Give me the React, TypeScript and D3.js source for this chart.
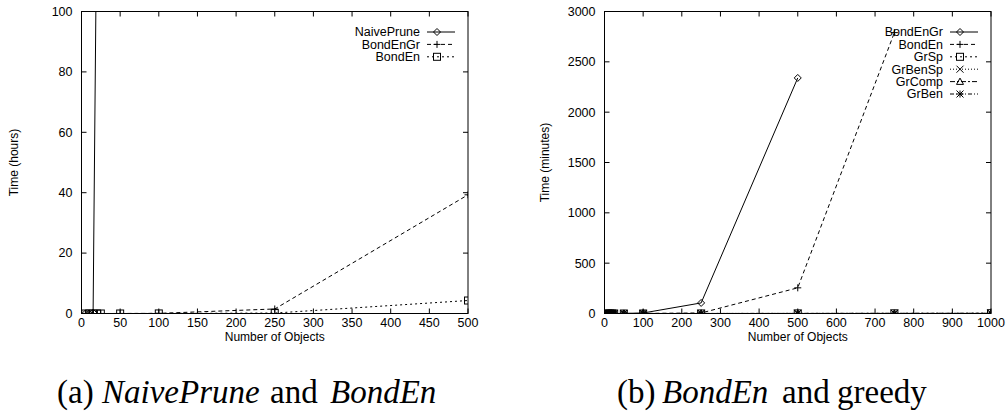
import React from "react";
import * as d3 from "d3";

// ---- Data ----
const leftX = [5, 10, 15, 20, 25, 50, 100, 250, 500];
const leftNaiveX = [5, 10, 15, 20];
const leftNaivePrune = [0, 0, 0.3, 140];
const leftBondEnGr = [0, 0, 0, 0, 0, 0.01, 0.05, 1.5, 39.3];
const leftBondEn = [0, 0, 0, 0, 0, 0, 0.02, 0.15, 4.3];
const leftXTicks = [0, 50, 100, 150, 200, 250, 300, 350, 400, 450, 500];
const leftYTicks = [0, 20, 40, 60, 80, 100];

const rightX = [5, 10, 15, 20, 25, 50, 100, 250, 500, 750, 1000];
const rightBondEnGrX = [5, 10, 15, 20, 25, 50, 100, 250, 500];
const rightBondEnGr = [0, 0, 0, 0, 0, 1, 5, 105, 2340];
const rightBondEnX = [5, 10, 15, 20, 25, 50, 100, 250, 500, 750];
const rightBondEn = [0, 0, 0, 0, 0, 0, 1, 5, 255, 2790];
const rightGrSp = [0, 0, 0, 0, 0, 0, 0, 0.5, 1, 2, 3];
const rightGrBenSp = [0, 0, 0, 0, 0, 0, 0, 0.4, 0.8, 1.5, 2];
const rightGrComp = [0, 0, 0, 0, 0, 0, 0, 0.3, 0.6, 1, 1.5];
const rightGrBen = [0, 0, 0, 0, 0, 0, 0, 0.2, 0.5, 0.8, 1];
const rightXTicks = [0, 100, 200, 300, 400, 500, 600, 700, 800, 900, 1000];
const rightYTicks = [0, 500, 1000, 1500, 2000, 2500, 3000];

type MarkerKind = "diamond" | "plus" | "square" | "cross" | "triangle" | "star";

interface Series {
  name: string;
  xs: number[];
  ys: number[];
  dash: string;
  marker: MarkerKind;
}

const FONT = "'Liberation Sans', Arial, Helvetica, sans-serif";

function Marker({ kind, x, y }: { kind: MarkerKind; x: number; y: number }) {
  const s = 3.5;
  const common = { fill: "none", stroke: "#000", strokeWidth: 1 };
  switch (kind) {
    case "diamond":
      return <path d={`M${x},${y - s}L${x + s},${y}L${x},${y + s}L${x - s},${y}Z`} {...common} />;
    case "plus":
      return <path d={`M${x - s},${y}H${x + s}M${x},${y - s}V${y + s}`} {...common} />;
    case "square":
      return <rect x={x - s} y={y - s} width={2 * s} height={2 * s} {...common} />;
    case "cross":
      return <path d={`M${x - s},${y - s}L${x + s},${y + s}M${x - s},${y + s}L${x + s},${y - s}`} {...common} />;
    case "triangle":
      return <path d={`M${x},${y - s}L${x + s},${y + s * 0.8}L${x - s},${y + s * 0.8}Z`} {...common} />;
    case "star":
      return (
        <path
          d={`M${x - s},${y}H${x + s}M${x},${y - s}V${y + s}M${x - s},${y - s}L${x + s},${y + s}M${x - s},${y + s}L${x + s},${y - s}`}
          {...common}
        />
      );
  }
}

interface ChartProps {
  id: string;
  left: number;
  right: number;
  top: number;
  bottom: number;
  xMax: number;
  yMax: number;
  xTicks: number[];
  yTicks: number[];
  yLabel: string;
  yLabelX: number;
  series: Series[];
}

function Chart(p: ChartProps) {
  const x = d3.scaleLinear().domain([0, p.xMax]).range([p.left, p.right]);
  const y = d3.scaleLinear().domain([0, p.yMax]).range([p.bottom, p.top]);
  const line = d3
    .line<[number, number]>()
    .x((d) => x(d[0]))
    .y((d) => y(d[1]));
  const tick = 5;
  const legendTextX = p.right - 48;
  const legendS0 = p.right - 41;
  const legendS1 = p.right - 13;
  const legendY0 = 32;
  const legendDy = 12.4;
  return (
    <g>
      <defs>
        <clipPath id={p.id}>
          <rect x={p.left} y={p.top} width={p.right - p.left} height={p.bottom - p.top} />
        </clipPath>
      </defs>
      {p.xTicks.map((t) => (
        <g key={"xt" + t}>
          <line x1={x(t)} x2={x(t)} y1={p.bottom} y2={p.bottom - tick} stroke="#000" />
          <line x1={x(t)} x2={x(t)} y1={p.top} y2={p.top + tick} stroke="#000" />
          <text x={x(t)} y={327} textAnchor="middle" fontFamily={FONT} fontSize={12.5}>
            {t}
          </text>
        </g>
      ))}
      {p.yTicks.map((t) => (
        <g key={"yt" + t}>
          <line x1={p.left} x2={p.left + tick} y1={y(t)} y2={y(t)} stroke="#000" />
          <line x1={p.right} x2={p.right - tick} y1={y(t)} y2={y(t)} stroke="#000" />
          <text x={p.left - 9} y={y(t)} dy="0.35em" textAnchor="end" fontFamily={FONT} fontSize={12.5}>
            {t}
          </text>
        </g>
      ))}
      <text x={(p.left + p.right) / 2} y={341} textAnchor="middle" fontFamily={FONT} fontSize={12}>
        Number of Objects
      </text>
      <text
        transform={`translate(${p.yLabelX},${(p.top + p.bottom) / 2}) rotate(-90)`}
        dy="0.35em"
        textAnchor="middle"
        fontFamily={FONT}
        fontSize={12}
      >
        {p.yLabel}
      </text>
      <g clipPath={`url(#${p.id})`}>
        {p.series.map((s) => (
          <path
            key={s.name}
            d={line(s.xs.map((xv, i) => [xv, s.ys[i]] as [number, number])) || ""}
            fill="none"
            stroke="#000"
            strokeWidth={1}
            strokeDasharray={s.dash}
          />
        ))}
        {p.series.map((s) =>
          s.xs.map((xv, i) =>
            s.ys[i] <= p.yMax ? <Marker key={s.name + i} kind={s.marker} x={x(xv)} y={y(s.ys[i])} /> : null
          )
        )}
      </g>
      {p.series.map((s, i) => {
        const ly = legendY0 + i * legendDy;
        return (
          <g key={"lg" + s.name}>
            <text x={legendTextX} y={ly} dy="0.35em" textAnchor="end" fontFamily={FONT} fontSize={12.5}>
              {s.name}
            </text>
            <line x1={legendS0} x2={legendS1} y1={ly} y2={ly} stroke="#000" strokeDasharray={s.dash} />
            <Marker kind={s.marker} x={(legendS0 + legendS1) / 2 - 4} y={ly} />
          </g>
        );
      })}
      <rect
        x={p.left}
        y={p.top}
        width={p.right - p.left}
        height={p.bottom - p.top}
        fill="none"
        stroke="#000"
        strokeWidth={1}
      />
    </g>
  );
}

const DASH1 = "";
const DASH2 = "4,3";
const DASH3 = "2,3";
const DASH4 = "1,2";
const DASH5 = "5,2,2,2";
const DASH6 = "4,2,1,2";

export default function App() {
  const leftSeries: Series[] = [
    { name: "NaivePrune", xs: leftNaiveX, ys: leftNaivePrune, dash: DASH1, marker: "diamond" },
    { name: "BondEnGr", xs: leftX, ys: leftBondEnGr, dash: DASH2, marker: "plus" },
    { name: "BondEn", xs: leftX, ys: leftBondEn, dash: DASH3, marker: "square" },
  ];
  const rightSeries: Series[] = [
    { name: "BondEnGr", xs: rightBondEnGrX, ys: rightBondEnGr, dash: DASH1, marker: "diamond" },
    { name: "BondEn", xs: rightBondEnX, ys: rightBondEn, dash: DASH2, marker: "plus" },
    { name: "GrSp", xs: rightX, ys: rightGrSp, dash: DASH3, marker: "square" },
    { name: "GrBenSp", xs: rightX, ys: rightGrBenSp, dash: DASH4, marker: "cross" },
    { name: "GrComp", xs: rightX, ys: rightGrComp, dash: DASH5, marker: "triangle" },
    { name: "GrBen", xs: rightX, ys: rightGrBen, dash: DASH6, marker: "star" },
  ];
  const serif = "'Liberation Serif', 'Times New Roman', serif";
  return (
    <svg width={1007} height={414} style={{ position: "absolute", left: 0, top: 0, background: "#fff" }}>
      <rect width={1007} height={414} fill="#fff" />
      <Chart
        id="clipA"
        left={81.5}
        right={468}
        top={11.5}
        bottom={313.5}
        xMax={500}
        yMax={100}
        xTicks={leftXTicks}
        yTicks={leftYTicks}
        yLabel="Time (hours)"
        yLabelX={14}
        series={leftSeries}
      />
      <Chart
        id="clipB"
        left={604.5}
        right={991}
        top={11.5}
        bottom={313.5}
        xMax={1000}
        yMax={3000}
        xTicks={rightXTicks}
        yTicks={rightYTicks}
        yLabel="Time (minutes)"
        yLabelX={545}
        series={rightSeries}
      />
      <text y={403} fontFamily={serif} fontSize={33}>
        <tspan x={57}>(a) </tspan>
        <tspan x={102} fontStyle="italic">NaivePrune</tspan>
        <tspan x={270}>and</tspan>
        <tspan x={330} fontStyle="italic">BondEn</tspan>
      </text>
      <text y={403} fontFamily={serif} fontSize={33}>
        <tspan x={617}>(b) </tspan>
        <tspan x={662} fontStyle="italic">BondEn</tspan>
        <tspan x={782}>and</tspan>
        <tspan x={837}>greedy</tspan>
      </text>
    </svg>
  );
}
